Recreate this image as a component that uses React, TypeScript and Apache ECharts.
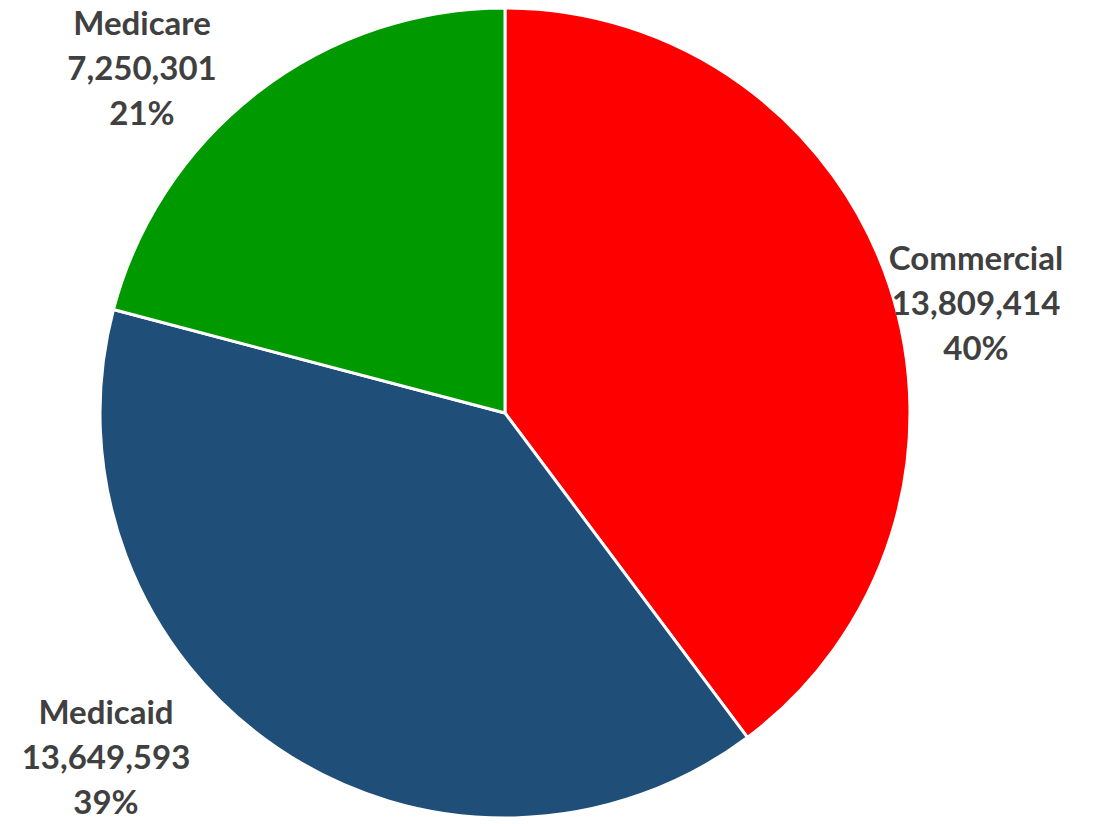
import React, { useEffect, useRef } from "react";
import * as echarts from "echarts";

const categories = ["Commercial", "Medicaid", "Medicare"];
const values = [13809414, 13649593, 7250301];
const colors = ["#FF0000", "#1F4E79", "#009900"];
const labelAnchors = [
  [976, 302],
  [106, 756],
  [142, 67],
];

export default function App() {
  const ref = useRef<HTMLDivElement>(null);
  useEffect(() => {
    const chart = echarts.init(ref.current!, null, { renderer: "svg" });
    const total = values.reduce((a, b) => a + b, 0);
    chart.setOption({
      animation: false,
      series: [
        {
          type: "pie",
          center: [505, 413],
          radius: 405,
          startAngle: 90,
          clockwise: true,
          data: categories.map((c, i) => ({
            name: c,
            value: values[i],
            itemStyle: { color: colors[i] },
          })),
          itemStyle: { borderColor: "#FFFFFF", borderWidth: 3 },
          label: {
            show: true,
            position: "outside",
            color: "#404040",
            fontFamily: "Lato",
            fontWeight: "bold",
            fontSize: 33,
            lineHeight: 45,
            align: "center",
            overflow: "none",
            edgeDistance: 0,
            formatter: (p: any) =>
              `${p.name}\n${p.value.toLocaleString("en-US")}\n${Math.round((p.value / total) * 100)}%`,
          },
          labelLine: { show: false },
          labelLayout: (params: any) => ({
            x: labelAnchors[params.dataIndex][0],
            y: labelAnchors[params.dataIndex][1],
            align: "center",
            verticalAlign: "middle",
          }),
          emphasis: { disabled: true },
        },
      ],
    });
    return () => chart.dispose();
  }, []);
  return (
    <div
      ref={ref}
      style={{ position: "fixed", left: 0, top: 0, width: 1097, height: 824, background: "#fff" }}
    />
  );
}
